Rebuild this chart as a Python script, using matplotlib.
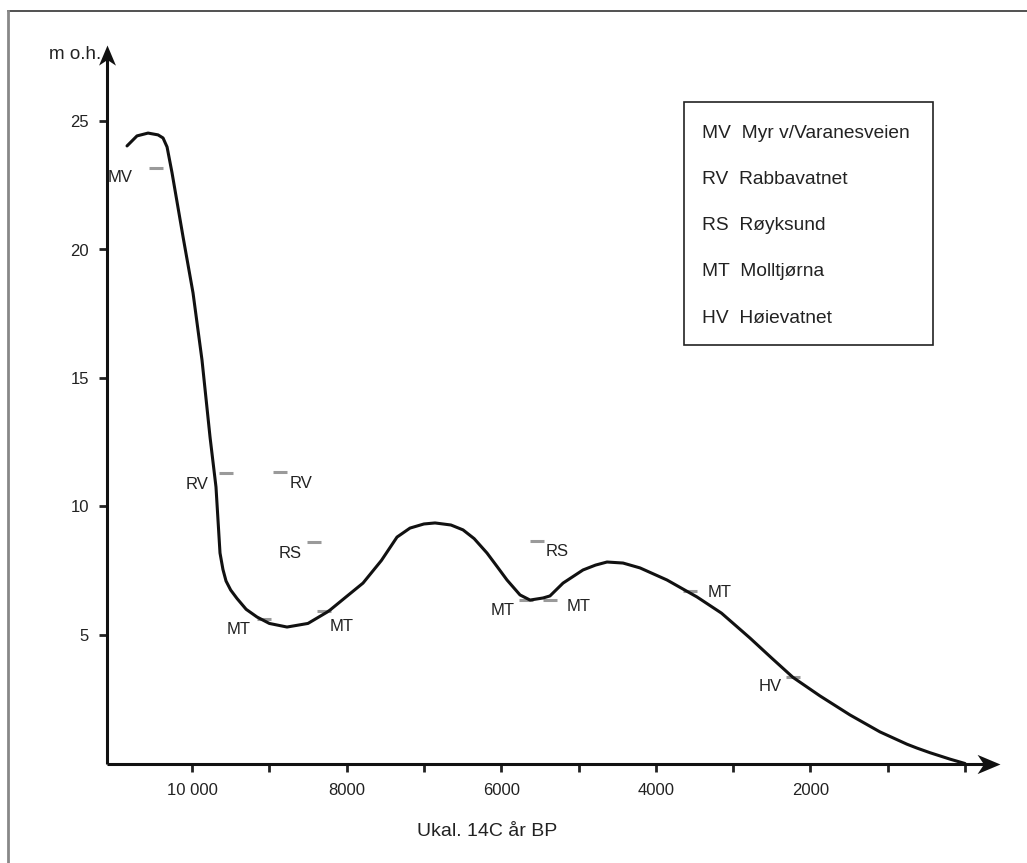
import matplotlib
matplotlib.use("Agg")
import matplotlib.pyplot as plt
from matplotlib.lines import Line2D
from matplotlib.path import Path

plt.rcParams['font.family'] = ['Liberation Sans', 'DejaVu Sans']

# Shoreline curve (years BP, m a.s.l.)
curve_x = [10841, 10712, 10569, 10440, 10375, 10323, 10259, 10116, 9987, 9871,
           9767, 9690, 9638, 9600, 9560, 9500, 9418, 9300, 9159, 9000, 8771,
           8500, 8253, 8215, 8000, 7788, 7550, 7348, 7180, 7000, 6856, 6650,
           6494, 6350, 6184, 6050, 5925, 5757, 5627, 5459, 5369, 5200, 4942,
           4780, 4631, 4424, 4204, 3855, 3467, 3150, 2872, 2781, 2500, 2225,
           1876, 1488, 1100, 750, 621, 453, 194, 0]
curve_y = [24.03, 24.42, 24.53, 24.46, 24.34, 23.99, 22.99, 20.49, 18.31, 15.70,
           12.70, 10.76, 8.19, 7.55, 7.1, 6.75, 6.42, 6.0, 5.70, 5.45, 5.31,
           5.45, 5.89, 5.97, 6.5, 7.02, 7.9, 8.81, 9.16, 9.32, 9.36, 9.28,
           9.09, 8.75, 8.19, 7.65, 7.14, 6.56, 6.36, 6.44, 6.52, 7.02, 7.53,
           7.72, 7.84, 7.80, 7.61, 7.14, 6.48, 5.85, 5.12, 4.88, 4.1, 3.35,
           2.63, 1.89, 1.23, 0.75, 0.6, 0.42, 0.17, 0.0]

# Dated sites: marker position and label position
site_codes = ['MV', 'RV', 'RV', 'RS', 'MT', 'MT', 'RS', 'MT', 'MT', 'MT', 'HV']
site_x = [10466, 9560, 8862, 8422, 9069, 8292, 5537, 5679, 5369, 3557, 2225]
site_y = [23.19, 11.3, 11.34, 8.62, 5.62, 5.93, 8.66, 6.36, 6.36, 6.71, 3.37]
label_x = [10931, 9935, 8590, 8732, 9392, 8060, 5278, 5977, 4994, 3170, 2522]
label_y = [22.82, 10.84, 10.88, 8.19, 5.23, 5.35, 8.23, 5.97, 6.09, 6.67, 2.98]

legend_lines = ['MV  Myr v/Varanesveien', 'RV  Rabbavatnet', 'RS  Røyksund',
                'MT  Molltjørna', 'HV  Høievatnet']

xticks_major = [10000, 8000, 6000, 4000, 2000]
xtick_labels = ['10 000', '8000', '6000', '4000', '2000']
xticks_minor = [9000, 7000, 5000, 3000, 1000, 0]
yticks = [5, 10, 15, 20, 25]

W, H = 1027, 863
fig = plt.figure(figsize=(W / 100, H / 100), dpi=100)
ax = fig.add_axes([107 / W, (H - 763.5) / H, 893 / W, (763.5 - 45) / H])
ax.set_xlim(11100, -453)
ax.set_ylim(0, (763.5 - 45) / 25.7)

ax.plot(curve_x, curve_y, color='#111111', lw=2.2, solid_capstyle='round',
        solid_joinstyle='round', zorder=3)

ax.plot(site_x, site_y, linestyle='none', marker='_', markersize=10.5,
        markeredgewidth=2.2, color='#9a9a9a', zorder=2)
for code, lx, ly in zip(site_codes, label_x, label_y):
    ax.text(lx, ly, code, fontsize=12, ha='center', va='center', color='#222222')

for s in ax.spines.values():
    s.set_visible(False)

ax.set_xticks(xticks_major)
ax.set_xticklabels(xtick_labels)
ax.set_xticks(xticks_minor, minor=True)
ax.set_yticks(yticks)
ax.tick_params(axis='x', which='both', direction='out', length=6, width=2,
               color='#222222', labelsize=12, pad=8, labelcolor='#222222')
ax.tick_params(axis='y', direction='out', length=6, width=2, color='#222222',
               labelsize=12, pad=7, labelcolor='#222222')

# axis lines with notched arrow heads
axis_kw = dict(transform=ax.transAxes, color='#111111', lw=2.2, clip_on=False,
               solid_capstyle='butt')
ax.add_line(Line2D([0, 0.985], [0, 0], **axis_kw))
ax.add_line(Line2D([0, 0], [0, 0.98], **axis_kw))
head_x = Path([(0, 0), (-1, 0.42), (-0.72, 0), (-1, -0.42), (0, 0)],
              [Path.MOVETO, Path.LINETO, Path.LINETO, Path.LINETO, Path.CLOSEPOLY])
head_y = Path([(0, 0), (0.42, -1), (0, -0.72), (-0.42, -1), (0, 0)],
              [Path.MOVETO, Path.LINETO, Path.LINETO, Path.LINETO, Path.CLOSEPOLY])
ax.plot([1], [0], marker=head_x, markersize=33, color='#111111',
        transform=ax.transAxes, clip_on=False, markeredgewidth=0)
ax.plot([0], [1], marker=head_y, markersize=29, color='#111111',
        transform=ax.transAxes, clip_on=False, markeredgewidth=0)

ax.text(-0.006, 0.987, 'm o.h.', transform=ax.transAxes, ha='right', va='center',
        fontsize=13.5, color='#222222')
fig.text(487 / W, 1 - 831 / H, 'Ukal. 14C år BP', ha='center', va='center',
         fontsize=14, color='#222222')

# legend box
bx0, by0, bx1, by1 = 684, 102, 933, 345
fig.patches.append(plt.Rectangle((bx0 / W, 1 - by1 / H), (bx1 - bx0) / W,
                                 (by1 - by0) / H, transform=fig.transFigure,
                                 fill=False, edgecolor='#222222', lw=1.2))
ly0 = 133
for i, t in enumerate(legend_lines):
    fig.text(702 / W, 1 - (ly0 + i * 46.3) / H, t, ha='left', va='center',
             fontsize=13.8, color='#222222')

# outer frame (top and left only)
fig.add_artist(Line2D([8 / W, 1], [1 - 11 / H, 1 - 11 / H],
                      transform=fig.transFigure, color='#333333', lw=1.2))
fig.add_artist(Line2D([8 / W, 8 / W], [0, 1 - 11 / H],
                      transform=fig.transFigure, color='#888888', lw=2))

fig.savefig('out.png', dpi=100)
